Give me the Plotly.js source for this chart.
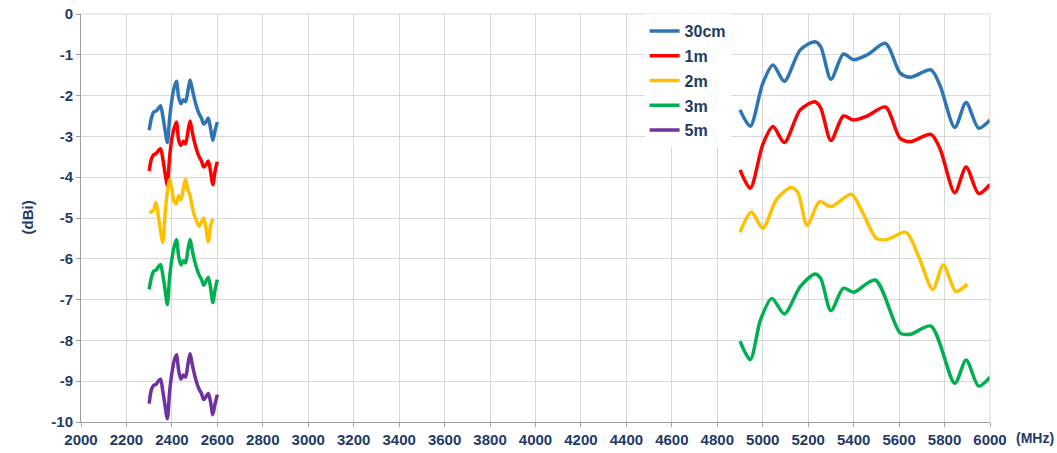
<!DOCTYPE html>
<html><head><meta charset="utf-8">
<script src="https://cdn.plot.ly/plotly-3.0.1.min.js"></script>
<style>html,body{margin:0;padding:0;background:#fff}#chart{width:1057px;height:453px}</style>
</head><body><div id="chart"></div>
<script>
const seriesNames = ['30cm', '1m', '2m', '3m', '5m'];
const seriesColors = ['#2E75B6', '#FF0000', '#FFC000', '#00B050', '#7030A0'];

// Low band (2.4 GHz) frequencies, MHz
const lowFreq = [2300, 2310, 2320, 2330, 2340, 2350, 2360, 2370, 2380, 2390, 2400,
  2410, 2420, 2430, 2440, 2450, 2460, 2470, 2480, 2490, 2500,
  2510, 2520, 2530, 2540, 2550, 2560, 2570, 2580, 2590, 2600];

const gain30cmLow = [-2.85, -2.55, -2.40, -2.38, -2.32, -2.25, -2.50, -2.85, -3.15, -2.55, -2.10,
  -1.80, -1.65, -2.05, -2.20, -2.10, -2.15, -1.90, -1.62, -1.85, -2.10,
  -2.30, -2.45, -2.55, -2.70, -2.65, -2.55, -2.80, -3.10, -2.85, -2.65];
const gain1mLow = [-3.85, -3.55, -3.45, -3.42, -3.35, -3.30, -3.55, -3.90, -4.20, -3.50, -3.05,
  -2.80, -2.65, -3.10, -3.22, -3.12, -3.18, -2.90, -2.62, -2.90, -3.15,
  -3.35, -3.50, -3.60, -3.75, -3.70, -3.60, -3.85, -4.18, -3.85, -3.62];
const gain2mLow = [-4.85, -4.85, -4.80, -4.62, -4.95, -5.30, -5.60, -4.90, -4.35, -4.05, -4.30,
  -4.60, -4.65, -4.45, -4.55, -4.30, -4.05, -4.30, -4.45, -4.75, -4.95,
  -5.10, -5.20, -5.10, -5.00, -5.25, -5.58, -5.20, -5.02, null, null];
const gain3mLow = [-6.75, -6.45, -6.30, -6.28, -6.20, -6.14, -6.40, -6.75, -7.12, -6.45, -6.00,
  -5.70, -5.53, -5.95, -6.15, -6.05, -6.10, -5.80, -5.53, -5.80, -6.05,
  -6.25, -6.40, -6.50, -6.65, -6.55, -6.45, -6.70, -7.07, -6.75, -6.51];
const gain5mLow = [-9.55, -9.20, -9.10, -9.08, -9.00, -8.95, -9.25, -9.60, -9.92, -9.25, -8.80,
  -8.50, -8.35, -8.75, -8.95, -8.85, -8.90, -8.60, -8.33, -8.60, -8.85,
  -9.05, -9.20, -9.30, -9.45, -9.38, -9.30, -9.50, -9.82, -9.55, -9.33];

// High band (5 GHz)
const freq30cmHigh = [4900, 4945, 5000, 5045, 5095, 5165, 5230, 5255, 5300, 5355, 5400, 5460, 5540, 5605, 5650, 5740, 5780, 5845, 5895, 5950, 6000];
const gain30cmHigh = [-2.35, -2.75, -1.70, -1.25, -1.65, -0.88, -0.68, -0.80, -1.60, -0.98, -1.12, -1.00, -0.72, -1.45, -1.55, -1.37, -1.75, -2.78, -2.17, -2.80, -2.60];
const freq1mHigh = [4900, 4945, 5000, 5045, 5095, 5165, 5230, 5255, 5300, 5355, 5400, 5460, 5540, 5605, 5650, 5740, 5780, 5845, 5895, 5950, 6000];
const gain1mHigh = [-3.82, -4.27, -3.20, -2.76, -3.15, -2.35, -2.15, -2.30, -3.10, -2.50, -2.60, -2.50, -2.28, -3.05, -3.13, -2.95, -3.30, -4.38, -3.75, -4.40, -4.18];
const freq2mHigh = [4900, 4950, 5000, 5060, 5125, 5155, 5195, 5250, 5300, 5390, 5440, 5500, 5545, 5630, 5690, 5748, 5795, 5850, 5900];
const gain2mHigh = [-5.35, -4.85, -5.25, -4.55, -4.25, -4.38, -5.18, -4.60, -4.72, -4.42, -4.87, -5.50, -5.53, -5.35, -6.00, -6.75, -6.15, -6.80, -6.62];
const freq3mHigh = [4900, 4945, 4990, 5040, 5095, 5165, 5230, 5255, 5300, 5355, 5400, 5495, 5605, 5650, 5740, 5845, 5895, 5950, 6000];
const gain3mHigh = [-8.02, -8.47, -7.50, -6.97, -7.35, -6.68, -6.37, -6.48, -7.27, -6.72, -6.82, -6.52, -7.82, -7.85, -7.65, -9.05, -8.48, -9.12, -8.90];
const freq5mHigh = [];
const gain5mHigh = [];

const xTickVals = [2000, 2200, 2400, 2600, 2800, 3000, 3200, 3400, 3600, 3800, 4000, 4200, 4400, 4600, 4800, 5000, 5200, 5400, 5600, 5800, 6000];
const yTickVals = [0, -1, -2, -3, -4, -5, -6, -7, -8, -9, -10];

const lows = [gain30cmLow, gain1mLow, gain2mLow, gain3mLow, gain5mLow];
const highFreqs = [freq30cmHigh, freq1mHigh, freq2mHigh, freq3mHigh, freq5mHigh];
const highs = [gain30cmHigh, gain1mHigh, gain2mHigh, gain3mHigh, gain5mHigh];

const navy = '#1F3A68';
const traces = seriesNames.map((name, i) => ({
  type: 'scatter', mode: 'lines', name: name,
  legendgroup: 'g' + i,
  x: lowFreq.concat([2700], highFreqs[i]),
  y: lows[i].concat([null], highs[i]),
  connectgaps: false,
  line: {color: seriesColors[i], width: 3.5, shape: 'spline', smoothing: 0.8}
}));

const layout = {
  width: 1057, height: 453,
  margin: {l: 81, r: 67, t: 14, b: 31},
  paper_bgcolor: '#fff', plot_bgcolor: '#fff',
  font: {family: '"Liberation Sans", Arial, sans-serif', color: navy},
  showlegend: true,
  legend: {
    x: 0.62, xanchor: 'left', y: 1.0, yanchor: 'top',
    bgcolor: '#fff', borderwidth: 0,
    font: {size: 16, color: navy, family: '"Liberation Sans", Arial, sans-serif', weight: 'bold'},
    tracegroupgap: 1, itemwidth: 30
  },
  xaxis: {
    range: [2000, 6000], tickvals: xTickVals, ticktext: xTickVals.map(String),
    showgrid: true, gridcolor: '#D9D9D9', gridwidth: 1,
    showline: true, linecolor: '#A0A0A0', linewidth: 1,
    ticks: 'outside', ticklen: 4, tickcolor: '#A0A0A0',
    zeroline: false, mirror: false,
    tickfont: {size: 15, color: navy, weight: 'bold'}
  },
  yaxis: {
    range: [-10, 0], tickvals: yTickVals, ticktext: yTickVals.map(String),
    showgrid: true, gridcolor: '#D9D9D9', gridwidth: 1,
    showline: true, linecolor: '#A0A0A0', linewidth: 1,
    ticks: 'outside', ticklen: 4, tickcolor: '#A0A0A0',
    zeroline: false,
    tickfont: {size: 15, color: navy, weight: 'bold'}
  },
  shapes: [
    {type: 'line', xref: 'paper', yref: 'paper', x0: 0, x1: 1, y0: 1, y1: 1, line: {color: '#D9D9D9', width: 1}},
    {type: 'line', xref: 'paper', yref: 'paper', x0: 1, x1: 1, y0: 0, y1: 1, line: {color: '#D9D9D9', width: 1}}
  ],
  annotations: [
    {text: '<b>(dBi)</b>', xref: 'paper', yref: 'paper', x: -0.0715, y: 0.5, showarrow: false, textangle: -90, font: {size: 15, color: navy}},
    {text: '<b>(MHz)</b>', xref: 'paper', yref: 'paper', x: 1.0, xanchor: 'right', xshift: 66, y: 0, yanchor: 'middle', yshift: -16, showarrow: false, font: {size: 14, color: navy}}
  ]
};

Plotly.newPlot('chart', traces, layout, {displayModeBar: false, staticPlot: true});
</script>
</body></html>
